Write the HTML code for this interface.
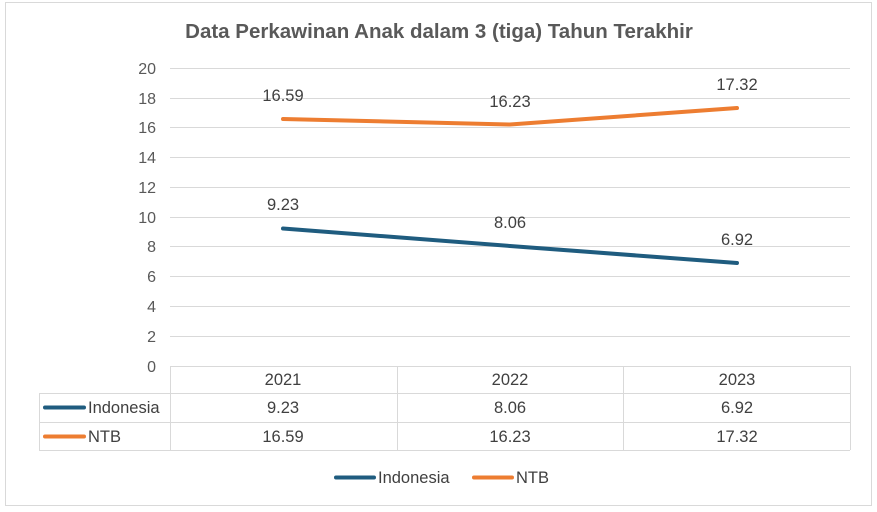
<!DOCTYPE html>
<html><head><style>html,body{margin:0;padding:0;background:#fff}svg{display:block}</style></head>
<body>
<svg width="877" height="512" xmlns="http://www.w3.org/2000/svg" font-family="Liberation Sans, sans-serif">
<rect x="5.5" y="2.5" width="866" height="503" fill="#fff" stroke="#d9d9d9"/>
<text x="439" y="38" text-anchor="middle" font-size="20.5" font-weight="bold" fill="#595959">Data Perkawinan Anak dalam 3 (tiga) Tahun Terakhir</text>
<g stroke="#d9d9d9" stroke-width="1">
<line x1="170" x2="850" y1="68.5" y2="68.5"/><line x1="170" x2="850" y1="98.5" y2="98.5"/>
<line x1="170" x2="850" y1="127.5" y2="127.5"/><line x1="170" x2="850" y1="157.5" y2="157.5"/>
<line x1="170" x2="850" y1="187.5" y2="187.5"/><line x1="170" x2="850" y1="217.5" y2="217.5"/>
<line x1="170" x2="850" y1="246.5" y2="246.5"/><line x1="170" x2="850" y1="276.5" y2="276.5"/>
<line x1="170" x2="850" y1="306.5" y2="306.5"/><line x1="170" x2="850" y1="336.5" y2="336.5"/>
<line x1="170" x2="850" y1="366.5" y2="366.5"/>
<line x1="170.5" x2="170.5" y1="366" y2="450"/><line x1="397.5" x2="397.5" y1="366" y2="450"/>
<line x1="623.5" x2="623.5" y1="366" y2="450"/><line x1="850.5" x2="850.5" y1="366" y2="450"/>
<line x1="39" x2="850" y1="393.5" y2="393.5"/><line x1="39" x2="850" y1="422.5" y2="422.5"/>
<line x1="39" x2="850" y1="450.5" y2="450.5"/><line x1="39.5" x2="39.5" y1="393" y2="450"/>
</g>
<g font-size="16" fill="#595959" text-anchor="end">
<text x="156" y="74">20</text><text x="156" y="104">18</text><text x="156" y="133">16</text>
<text x="156" y="163">14</text><text x="156" y="193">12</text><text x="156" y="223">10</text>
<text x="156" y="252">8</text><text x="156" y="282">6</text><text x="156" y="312">4</text>
<text x="156" y="342">2</text><text x="156" y="372">0</text>
</g>
<polyline points="283,119 510,124.5 737,108" fill="none" stroke="#ed7d31" stroke-width="4" stroke-linecap="round"/>
<polyline points="283,228.5 510,246 737,263" fill="none" stroke="#1f5c7f" stroke-width="4" stroke-linecap="round"/>
<g font-size="16.5" fill="#404040" text-anchor="middle">
<text x="283" y="101">16.59</text><text x="510" y="107">16.23</text><text x="737" y="90">17.32</text>
<text x="283" y="210">9.23</text><text x="510" y="228">8.06</text><text x="737" y="245">6.92</text>
<text x="283" y="385">2021</text><text x="510" y="385">2022</text><text x="737" y="385">2023</text>
<text x="283" y="413">9.23</text><text x="510" y="413">8.06</text><text x="737" y="413">6.92</text>
<text x="283" y="442">16.59</text><text x="510" y="442">16.23</text><text x="737" y="442">17.32</text>
</g>
<line x1="45" x2="84" y1="407.5" y2="407.5" stroke="#1f5c7f" stroke-width="4" stroke-linecap="round"/>
<line x1="45" x2="84" y1="436.5" y2="436.5" stroke="#ed7d31" stroke-width="4" stroke-linecap="round"/>
<text x="88" y="413" font-size="16.5" fill="#404040">Indonesia</text>
<text x="88" y="442" font-size="16.5" fill="#404040">NTB</text>
<line x1="336" x2="374" y1="477.5" y2="477.5" stroke="#1f5c7f" stroke-width="4" stroke-linecap="round"/>
<text x="378" y="483" font-size="16.5" fill="#404040">Indonesia</text>
<line x1="474" x2="512" y1="477.5" y2="477.5" stroke="#ed7d31" stroke-width="4" stroke-linecap="round"/>
<text x="516" y="483" font-size="16.5" fill="#404040">NTB</text>
</svg>
</body></html>
